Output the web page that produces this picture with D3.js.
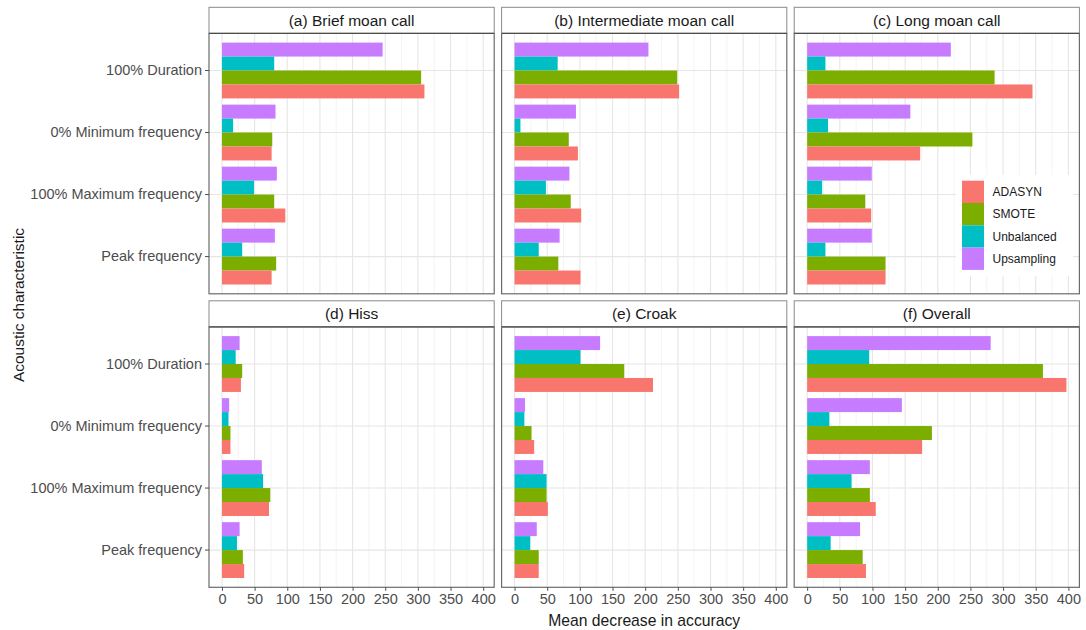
<!DOCTYPE html>
<html>
<head>
<meta charset="utf-8">
<script src="https://cdn.jsdelivr.net/npm/d3@7"></script>
<style>
  html, body { margin: 0; padding: 0; background: #fff; }
  svg { display: block; font-family: "Liberation Sans", Arial, Helvetica, sans-serif; }
</style>
</head>
<body>
<svg id="chart" width="1086" height="630"></svg>
<script>
// Acoustic characteristics (top to bottom)
const characteristics = ["100% Duration", "0% Minimum frequency", "100% Maximum frequency", "Peak frequency"];

// Facet titles
const panels = ["(a) Brief moan call", "(b) Intermediate moan call", "(c) Long moan call",
                "(d) Hiss", "(e) Croak", "(f) Overall"];

// Balancing methods (legend order)
const methods = ["ADASYN", "SMOTE", "Unbalanced", "Upsampling"];
const methodColors = ["#F8766D", "#7CAE00", "#00BFC4", "#C77CFF"];

// Mean decrease in accuracy, one row per panel, values in characteristic order
const adasyn = [
  [310, 76, 97, 76],
  [252, 97, 102, 101],
  [345, 173, 98, 120],
  [29, 13, 72, 34],
  [212, 30, 51, 37],
  [397, 176, 105, 90]
];
const smote = [
  [305, 77, 80, 83],
  [249, 83, 86, 67],
  [287, 253, 89, 120],
  [31, 13, 74, 32],
  [168, 26, 49, 37],
  [361, 191, 96, 85]
];
const unbalanced = [
  [80, 17, 49, 31],
  [66, 9, 48, 37],
  [28, 32, 23, 28],
  [21, 10, 63, 23],
  [101, 15, 49, 24],
  [95, 34, 68, 36]
];
const upsampling = [
  [246, 82, 84, 81],
  [205, 94, 84, 69],
  [220, 158, 99, 99],
  [27, 11, 61, 27],
  [131, 16, 44, 34],
  [281, 145, 96, 81]
];

const xTicks = [0, 50, 100, 150, 200, 250, 300, 350, 400];
const xMinor = [25, 75, 125, 175, 225, 275, 325, 375];

const seriesByMethod = { ADASYN: adasyn, SMOTE: smote, Unbalanced: unbalanced, Upsampling: upsampling };

// Layout
const colLeft = [209, 501.6, 794.2];
const panelW = 285.2;
const rowTop = [7.3, 300.8];
const stripH = 26;
const panelH = 260.5;

const svg = d3.select("#chart");
const color = d3.scaleOrdinal().domain(methods).range(methodColors);

const allValues = [adasyn, smote, unbalanced, upsampling].flat(2);
const vmax = d3.max(allValues);
const xDomain = [-0.05 * vmax, vmax * 1.05];

// Bars stack top-to-bottom: Upsampling, Unbalanced, SMOTE, ADASYN
const dodgeOrder = methods.slice().reverse();

panels.forEach((title, p) => {
  const col = p % 3, row = Math.floor(p / 3);
  const x0 = colLeft[col], x1 = x0 + panelW;
  const sTop = rowTop[row];
  const y0 = sTop + stripH, y1 = y0 + panelH;

  const x = d3.scaleLinear().domain(xDomain).range([x0, x1]);
  const y = d3.scaleBand().domain(characteristics).range([y0, y1])
    .paddingInner(0.1).paddingOuter(0.15);
  const yInner = d3.scaleBand().domain(dodgeOrder).range([0, y.bandwidth()]);

  const g = svg.append("g");

  // panel background
  g.append("rect").attr("x", x0).attr("y", y0).attr("width", panelW).attr("height", panelH)
    .attr("fill", "#fff");

  // minor vertical grid
  g.selectAll(".minor").data(xMinor).enter().append("line")
    .attr("x1", d => x(d)).attr("x2", d => x(d)).attr("y1", y0).attr("y2", y1)
    .attr("stroke", "#ececec").attr("stroke-width", 0.6);
  // major vertical grid
  g.selectAll(".major").data(xTicks).enter().append("line")
    .attr("x1", d => x(d)).attr("x2", d => x(d)).attr("y1", y0).attr("y2", y1)
    .attr("stroke", "#e6e6e6").attr("stroke-width", 1.1);
  // major horizontal grid
  g.selectAll(".hmajor").data(characteristics).enter().append("line")
    .attr("x1", x0).attr("x2", x1)
    .attr("y1", d => y(d) + y.bandwidth() / 2).attr("y2", d => y(d) + y.bandwidth() / 2)
    .attr("stroke", "#e6e6e6").attr("stroke-width", 1.1);

  // bars
  const barData = [];
  characteristics.forEach((c, i) => {
    dodgeOrder.forEach(m => {
      barData.push({ c, m, v: seriesByMethod[m][p][i] });
    });
  });
  g.selectAll(".bar").data(barData).enter().append("rect")
    .attr("x", x(0))
    .attr("y", d => y(d.c) + yInner(d.m))
    .attr("width", d => x(d.v) - x(0))
    .attr("height", yInner.bandwidth())
    .attr("fill", d => color(d.m));

  // panel border
  g.append("rect").attr("x", x0).attr("y", y0).attr("width", panelW).attr("height", panelH)
    .attr("fill", "none").attr("stroke", "#6b6b6b").attr("stroke-width", 1.2);

  // strip
  g.append("rect").attr("x", x0).attr("y", sTop).attr("width", panelW).attr("height", stripH)
    .attr("fill", "#fff").attr("stroke", "#8a8a8a").attr("stroke-width", 1);
  g.append("line").attr("x1", x0).attr("x2", x1).attr("y1", y0).attr("y2", y0)
    .attr("stroke", "#4d4d4d").attr("stroke-width", 1.3);
  g.append("text").attr("x", (x0 + x1) / 2).attr("y", sTop + stripH / 2)
    .attr("dy", "0.36em").attr("text-anchor", "middle")
    .attr("font-size", 15.5).attr("fill", "#1a1a1a").text(title);

  // y axis on left column
  if (col === 0) {
    const yAxis = d3.axisLeft(y).tickSize(4).tickPadding(3);
    const ya = svg.append("g").attr("transform", `translate(${x0},0)`).call(yAxis);
    ya.select(".domain").remove();
    ya.selectAll(".tick line").attr("stroke", "#4d4d4d");
    ya.selectAll(".tick text").attr("font-size", 14.5).attr("fill", "#4d4d4d")
      .attr("font-family", "Liberation Sans, Arial, sans-serif");
  }

  // x axis on bottom row
  if (row === 1) {
    const xAxis = d3.axisBottom(x).tickValues(xTicks).tickSize(3.5).tickPadding(3);
    const xa = svg.append("g").attr("transform", `translate(0,${y1})`).call(xAxis);
    xa.select(".domain").remove();
    xa.selectAll(".tick line").attr("stroke", "#4d4d4d");
    xa.selectAll(".tick text").attr("font-size", 14.5).attr("fill", "#4d4d4d")
      .attr("font-family", "Liberation Sans, Arial, sans-serif");
  }
});

// legend inside panel (c)
const legend = svg.append("g");
legend.append("rect").attr("x", 956).attr("y", 175).attr("width", 117).attr("height", 101)
  .attr("fill", "#fff");
const keyX = 962, keyY = 180.7, keyW = 22, keyH = 22.3;
methods.forEach((m, i) => {
  legend.append("rect").attr("x", keyX).attr("y", keyY + i * keyH)
    .attr("width", keyW).attr("height", keyH).attr("fill", color(m));
  legend.append("text").attr("x", 992.5).attr("y", keyY + i * keyH + keyH / 2)
    .attr("dy", "0.36em").attr("font-size", 12).attr("fill", "#1a1a1a").text(m);
});

// axis titles
svg.append("text").attr("x", (colLeft[0] + colLeft[2] + panelW) / 2).attr("y", 620)
  .attr("dy", "0.36em").attr("text-anchor", "middle").attr("font-size", 15.7)
  .attr("fill", "#1a1a1a").text("Mean decrease in accuracy");
svg.append("text").attr("transform", "translate(18,305) rotate(-90)")
  .attr("dy", "0.36em").attr("text-anchor", "middle").attr("font-size", 15.5)
  .attr("fill", "#1a1a1a").text("Acoustic characteristic");
</script>
</body>
</html>
